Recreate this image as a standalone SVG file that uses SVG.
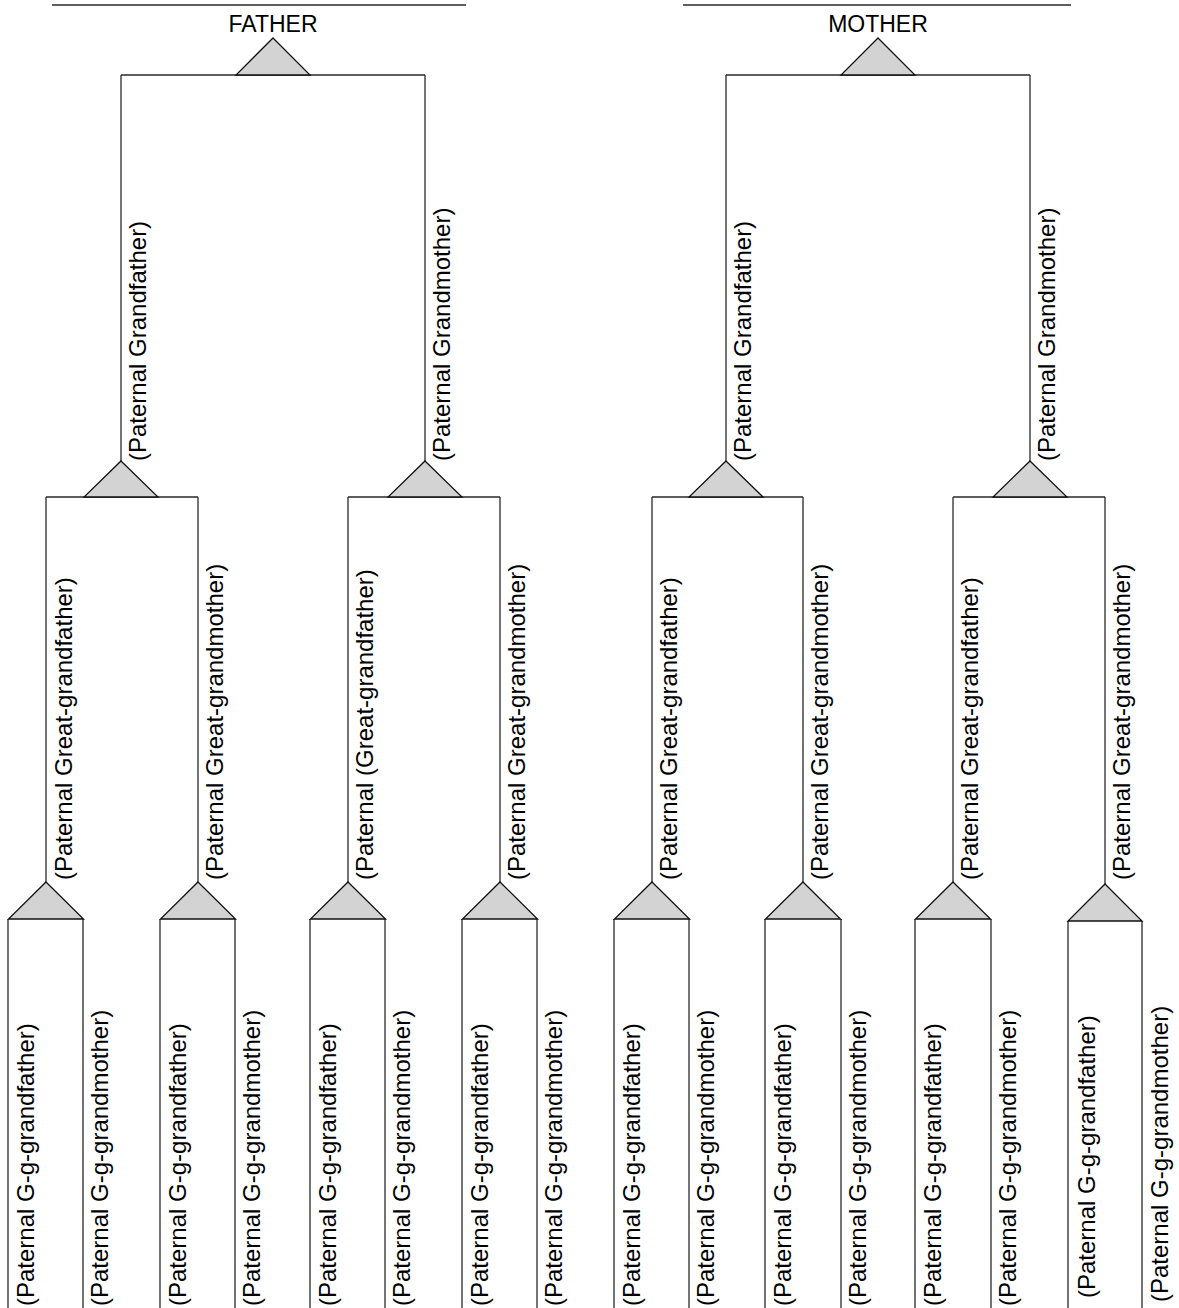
<svg xmlns="http://www.w3.org/2000/svg" width="1179" height="1308" viewBox="0 0 1179 1308">
<style>
.ln{stroke:#2a2a2a;stroke-width:1.3;fill:none}
.tri{fill:#d3d3d3;stroke:#111;stroke-width:1.3;stroke-linejoin:miter}
.t{font-family:"Liberation Sans",Arial,Helvetica,sans-serif;font-size:24px;fill:#000}
.h{font-family:"Liberation Sans",Arial,Helvetica,sans-serif;font-size:23px;fill:#000;text-anchor:middle}
</style>
<rect width="1179" height="1308" fill="#fff"/>
<g id="connectors">
<path class="ln" d="M52 5H466M683 5H1071"/>
<path class="ln" d="M121 75H425M121 75V461M425 75V461"/>
<path class="ln" d="M726 75H1030M726 75V461M1030 75V461"/>
<path class="ln" d="M46 497H198M46 497V882M198 497V882"/>
<path class="ln" d="M348 497H500M348 497V882M500 497V882"/>
<path class="ln" d="M652 497H803M652 497V882M803 497V882"/>
<path class="ln" d="M953 497H1105M953 497V882M1105 497V884"/>
<path class="ln" d="M8 919V1308M83 919V1308M160 919V1308M235 919V1308M310 919V1308M385 919V1308M462 919V1308M537 919V1308M614 919V1308M689 919V1308M765 919V1308M841 919V1308M915 919V1308M991 919V1308M1068 921V1308M1142 921V1308"/>
</g>
<g id="father"><text class="h" x="273" y="32">FATHER</text><polygon class="tri" points="273,38 310,75 236,75"/></g>
<g id="mother"><text class="h" x="878" y="32">MOTHER</text><polygon class="tri" points="878,38 915,75 841,75"/></g>
<g id="pgf1"><polygon class="tri" points="121,461 158,497 84,497"/><text class="t" transform="translate(146,461) rotate(-90)">(Paternal Grandfather)</text></g>
<g id="pgm1"><polygon class="tri" points="425,461 462,497 388,497"/><text class="t" transform="translate(450,461) rotate(-90)">(Paternal Grandmother)</text></g>
<g id="pgf2"><polygon class="tri" points="726,461 763,497 689,497"/><text class="t" transform="translate(751,461) rotate(-90)">(Paternal Grandfather)</text></g>
<g id="pgm2"><polygon class="tri" points="1030,461 1067,497 993,497"/><text class="t" transform="translate(1055,461) rotate(-90)">(Paternal Grandmother)</text></g>
<g id="ggf1"><polygon class="tri" points="46,882 83.5,919 8.5,919"/><text class="t" transform="translate(72,880) rotate(-90)">(Paternal Great-grandfather)</text></g>
<g id="ggm1"><polygon class="tri" points="198,882 235.5,919 160.5,919"/><text class="t" transform="translate(223,880) rotate(-90)">(Paternal Great-grandmother)</text></g>
<g id="ggf2"><polygon class="tri" points="348,882 385.5,919 310.5,919"/><text class="t" transform="translate(373,880) rotate(-90)">(Paternal (Great-grandfather)</text></g>
<g id="ggm2"><polygon class="tri" points="500,882 537.5,919 462.5,919"/><text class="t" transform="translate(525,880) rotate(-90)">(Paternal Great-grandmother)</text></g>
<g id="ggf3"><polygon class="tri" points="652,882 689.5,919 614.5,919"/><text class="t" transform="translate(677,880) rotate(-90)">(Paternal Great-grandfather)</text></g>
<g id="ggm3"><polygon class="tri" points="803,882 840.5,919 765.5,919"/><text class="t" transform="translate(828,880) rotate(-90)">(Paternal Great-grandmother)</text></g>
<g id="ggf4"><polygon class="tri" points="953,882 990.5,919 915.5,919"/><text class="t" transform="translate(978,880) rotate(-90)">(Paternal Great-grandfather)</text></g>
<g id="ggm4"><polygon class="tri" points="1105,884 1142,921 1068,921"/><text class="t" transform="translate(1130,880) rotate(-90)">(Paternal Great-grandmother)</text></g>
<g id="gggf1"><text class="t" transform="translate(34,1306) rotate(-90)">(Paternal G-g-grandfather)</text></g>
<g id="gggm1"><text class="t" transform="translate(108,1306) rotate(-90)">(Paternal G-g-grandmother)</text></g>
<g id="gggf2"><text class="t" transform="translate(186,1306) rotate(-90)">(Paternal G-g-grandfather)</text></g>
<g id="gggm2"><text class="t" transform="translate(260,1306) rotate(-90)">(Paternal G-g-grandmother)</text></g>
<g id="gggf3"><text class="t" transform="translate(336,1306) rotate(-90)">(Paternal G-g-grandfather)</text></g>
<g id="gggm3"><text class="t" transform="translate(410,1306) rotate(-90)">(Paternal G-g-grandmother)</text></g>
<g id="gggf4"><text class="t" transform="translate(488,1306) rotate(-90)">(Paternal G-g-grandfather)</text></g>
<g id="gggm4"><text class="t" transform="translate(562,1306) rotate(-90)">(Paternal G-g-grandmother)</text></g>
<g id="gggf5"><text class="t" transform="translate(640,1306) rotate(-90)">(Paternal G-g-grandfather)</text></g>
<g id="gggm5"><text class="t" transform="translate(714,1306) rotate(-90)">(Paternal G-g-grandmother)</text></g>
<g id="gggf6"><text class="t" transform="translate(791,1306) rotate(-90)">(Paternal G-g-grandfather)</text></g>
<g id="gggm6"><text class="t" transform="translate(866,1306) rotate(-90)">(Paternal G-g-grandmother)</text></g>
<g id="gggf7"><text class="t" transform="translate(941,1306) rotate(-90)">(Paternal G-g-grandfather)</text></g>
<g id="gggm7"><text class="t" transform="translate(1016,1306) rotate(-90)">(Paternal G-g-grandmother)</text></g>
<g id="gggf8"><text class="t" transform="translate(1095,1298) rotate(-90)">(Paternal G-g-grandfather)</text></g>
<g id="gggm8"><text class="t" transform="translate(1168,1302) rotate(-90)">(Paternal G-g-grandmother)</text></g>
</svg>
